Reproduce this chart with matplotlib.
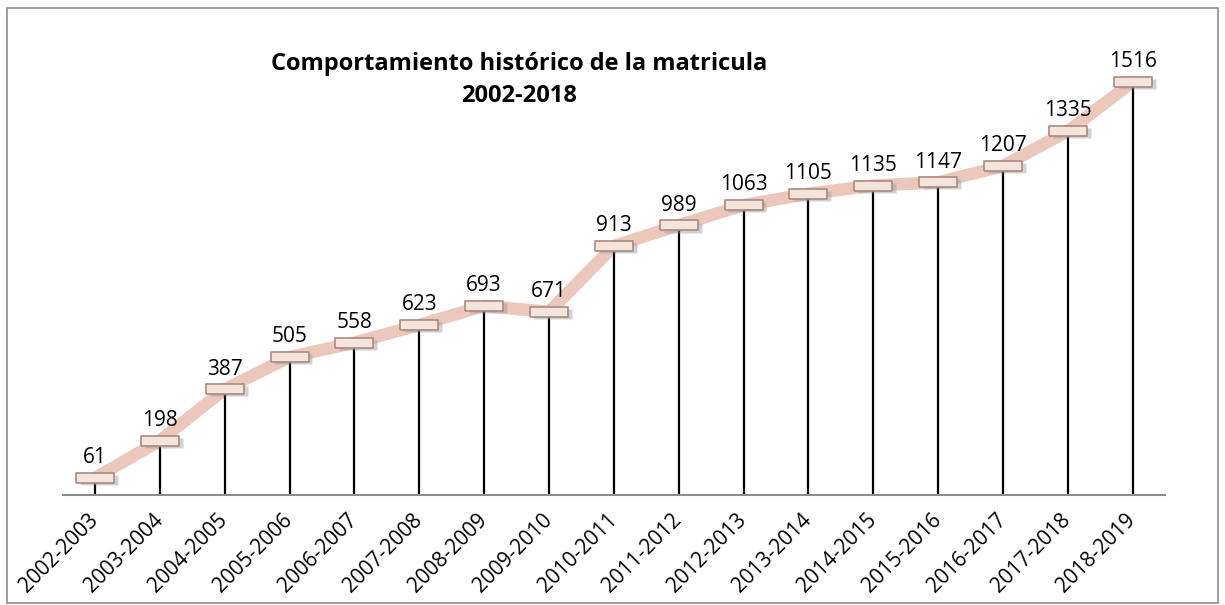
import numpy as np
import matplotlib.pyplot as plt
from matplotlib.patches import Rectangle

periodos = ['2002-2003', '2003-2004', '2004-2005', '2005-2006', '2006-2007',
            '2007-2008', '2008-2009', '2009-2010', '2010-2011', '2011-2012',
            '2012-2013', '2013-2014', '2014-2015', '2015-2016', '2016-2017',
            '2017-2018', '2018-2019']
matricula = [61, 198, 387, 505, 558, 623, 693, 671, 913, 989,
             1063, 1105, 1135, 1147, 1207, 1335, 1516]

plt.rcParams['font.family'] = ['Open Sans', 'DejaVu Sans']

fig = plt.figure(figsize=(12.25, 6.05), dpi=100)
ax = fig.add_axes([0.0511, 0.1825, 0.900, 0.720])

x = np.arange(len(periodos))

# lineas verticales hasta el eje
ax.vlines(x, 0, matricula, color='black', lw=1.6, zorder=2)

# linea gruesa
ax.plot(x, matricula, color='#ebc8bb', lw=9, solid_capstyle='round',
        solid_joinstyle='round', zorder=1)

# marcador rectangular tipo barra
rect = [(-1.85, -0.5), (1.85, -0.5), (1.85, 0.5), (-1.85, 0.5), (-1.85, -0.5)]
ax.plot(x + 0.06, np.array(matricula) - 8, ls='none', marker=rect, ms=27,
        mfc='#9a9a9a', mec='none', alpha=0.45, zorder=3)
ax.plot(x, matricula, ls='none', marker=rect, ms=27,
        mfc='#f4e4dc', mec='#a88a80', mew=1.2, zorder=4)

for xi, v in zip(x, matricula):
    ax.annotate(str(v), (xi, v), xytext=(0, 7), textcoords='offset points',
                ha='center', va='bottom', fontsize=15, color='black')

ax.set_xlim(-0.5, len(periodos) - 0.5)
ax.set_ylim(0, 1600)
ax.set_xticks(x)
ax.set_xticklabels(periodos, rotation=45, ha='right', va='center',
                   rotation_mode='anchor', fontsize=15)
ax.tick_params(axis='x', length=0, pad=16)
ax.set_yticks([])
for s in ['top', 'right', 'left']:
    ax.spines[s].set_visible(False)
ax.spines['bottom'].set_color('#8c8c8c')
ax.spines['bottom'].set_linewidth(1.5)

fig.text(0.424, 0.868, 'Comportamiento histórico de la matricula\n2002-2018',
         ha='center', va='center', fontsize=17, fontweight='bold',
         linespacing=1.45)

fig.patches.append(Rectangle((0.006, 0.004), 0.988, 0.982, transform=fig.transFigure,
                             fill=False, ec='#8c8c8c', lw=1.2))

fig.savefig('out.png', dpi=100)
